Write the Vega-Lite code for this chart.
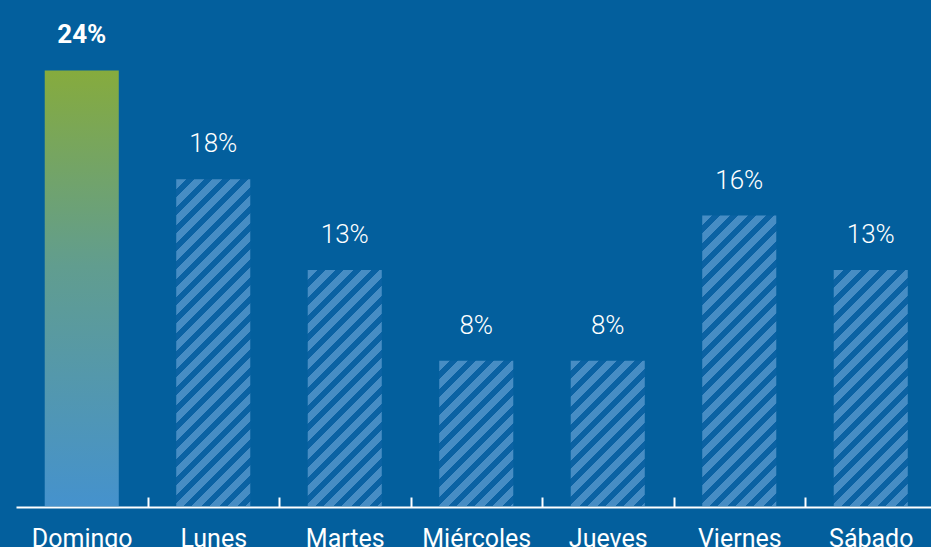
{
  "$schema": "https://vega.github.io/schema/vega-lite/v6.json",
  "width": 915,
  "height": 506,
  "autosize": {"type": "none"},
  "padding": {"left": 16, "top": 0, "right": 0, "bottom": 41},
  "background": "#035f9d",
  "config": {"view": {"stroke": null}, "font": "Roboto"},
  "data": {
    "values": [
      {"dia": "Domingo", "pct": 0.24},
      {"dia": "Lunes", "pct": 0.18},
      {"dia": "Martes", "pct": 0.13},
      {"dia": "Miércoles", "pct": 0.08},
      {"dia": "Jueves", "pct": 0.08},
      {"dia": "Viernes", "pct": 0.16},
      {"dia": "Sábado", "pct": 0.13}
    ]
  },
  "encoding": {
    "x": {
      "field": "dia",
      "type": "nominal",
      "scale": {
        "domain": ["Domingo", "Lunes", "Martes", "Miércoles", "Jueves", "Viernes", "Sábado"],
        "range": [0, 920.5],
        "paddingInner": 0.437,
        "paddingOuter": 0.2185
      },
      "axis": {
        "title": null,
        "labelColor": "white",
        "labelFontSize": 25,
        "labelFont": "Roboto",
        "labelFontWeight": "normal",
        "labelAngle": 0,
        "labelBaseline": "alphabetic",
        "labelPadding": 49,
        "labelOverlap": false,
        "labelOffset": -65.75,
        "domainColor": "white",
        "domainWidth": 2,
        "tickColor": "white",
        "tickWidth": 2,
        "tickSize": -10,
        "tickOffset": 65.75,
        "offset": 1,
        "grid": false
      }
    },
    "y": {
      "field": "pct",
      "type": "quantitative",
      "scale": {"domain": [0, 0.2788], "nice": false, "zero": true},
      "axis": null
    }
  },
  "layer": [
    {
      "transform": [{"filter": {"field": "dia", "equal": "Domingo"}}],
      "mark": {
        "type": "bar",
        "fill": {
          "gradient": "linear", "x1": 0, "y1": 0, "x2": 0, "y2": 1,
          "stops": [
            {"offset": 0, "color": "#86ab3d"},
            {"offset": 0.45, "color": "#619d8f"},
            {"offset": 1, "color": "#4592cd"}
          ]
        }
      }
    },
    {
      "transform": [{"filter": {"field": "dia", "oneOf": ["Lunes"]}}],
      "mark": {
        "type": "bar",
        "fill": {
          "gradient": "linear", "x1": 0, "y1": 0, "x2": 0.26447, "y2": 1.16756,
          "stops": [
            {"offset": 0, "color": "#478dc4"},{"offset": 0.02494, "color": "#478dc4"},{"offset": 0.02494, "color": "#0b62a3"},{"offset": 0.04489, "color": "#0b62a3"},
            {"offset": 0.04489, "color": "#478dc4"},{"offset": 0.06983, "color": "#478dc4"},{"offset": 0.06983, "color": "#0b62a3"},{"offset": 0.08978, "color": "#0b62a3"},
            {"offset": 0.08978, "color": "#478dc4"},{"offset": 0.11471, "color": "#478dc4"},{"offset": 0.11471, "color": "#0b62a3"},{"offset": 0.13466, "color": "#0b62a3"},
            {"offset": 0.13466, "color": "#478dc4"},{"offset": 0.15960, "color": "#478dc4"},{"offset": 0.15960, "color": "#0b62a3"},{"offset": 0.17955, "color": "#0b62a3"},
            {"offset": 0.17955, "color": "#478dc4"},{"offset": 0.20449, "color": "#478dc4"},{"offset": 0.20449, "color": "#0b62a3"},{"offset": 0.22444, "color": "#0b62a3"},
            {"offset": 0.22444, "color": "#478dc4"},{"offset": 0.24938, "color": "#478dc4"},{"offset": 0.24938, "color": "#0b62a3"},{"offset": 0.26933, "color": "#0b62a3"},
            {"offset": 0.26933, "color": "#478dc4"},{"offset": 0.29426, "color": "#478dc4"},{"offset": 0.29426, "color": "#0b62a3"},{"offset": 0.31421, "color": "#0b62a3"},
            {"offset": 0.31421, "color": "#478dc4"},{"offset": 0.33915, "color": "#478dc4"},{"offset": 0.33915, "color": "#0b62a3"},{"offset": 0.35910, "color": "#0b62a3"},
            {"offset": 0.35910, "color": "#478dc4"},{"offset": 0.38404, "color": "#478dc4"},{"offset": 0.38404, "color": "#0b62a3"},{"offset": 0.40399, "color": "#0b62a3"},
            {"offset": 0.40399, "color": "#478dc4"},{"offset": 0.42893, "color": "#478dc4"},{"offset": 0.42893, "color": "#0b62a3"},{"offset": 0.44888, "color": "#0b62a3"},
            {"offset": 0.44888, "color": "#478dc4"},{"offset": 0.47382, "color": "#478dc4"},{"offset": 0.47382, "color": "#0b62a3"},{"offset": 0.49377, "color": "#0b62a3"},
            {"offset": 0.49377, "color": "#478dc4"},{"offset": 0.51870, "color": "#478dc4"},{"offset": 0.51870, "color": "#0b62a3"},{"offset": 0.53865, "color": "#0b62a3"},
            {"offset": 0.53865, "color": "#478dc4"},{"offset": 0.56359, "color": "#478dc4"},{"offset": 0.56359, "color": "#0b62a3"},{"offset": 0.58354, "color": "#0b62a3"},
            {"offset": 0.58354, "color": "#478dc4"},{"offset": 0.60848, "color": "#478dc4"},{"offset": 0.60848, "color": "#0b62a3"},{"offset": 0.62843, "color": "#0b62a3"},
            {"offset": 0.62843, "color": "#478dc4"},{"offset": 0.65337, "color": "#478dc4"},{"offset": 0.65337, "color": "#0b62a3"},{"offset": 0.67332, "color": "#0b62a3"},
            {"offset": 0.67332, "color": "#478dc4"},{"offset": 0.69825, "color": "#478dc4"},{"offset": 0.69825, "color": "#0b62a3"},{"offset": 0.71820, "color": "#0b62a3"},
            {"offset": 0.71820, "color": "#478dc4"},{"offset": 0.74314, "color": "#478dc4"},{"offset": 0.74314, "color": "#0b62a3"},{"offset": 0.76309, "color": "#0b62a3"},
            {"offset": 0.76309, "color": "#478dc4"},{"offset": 0.78803, "color": "#478dc4"},{"offset": 0.78803, "color": "#0b62a3"},{"offset": 0.80798, "color": "#0b62a3"},
            {"offset": 0.80798, "color": "#478dc4"},{"offset": 0.83292, "color": "#478dc4"},{"offset": 0.83292, "color": "#0b62a3"},{"offset": 0.85287, "color": "#0b62a3"},
            {"offset": 0.85287, "color": "#478dc4"},{"offset": 0.87781, "color": "#478dc4"},{"offset": 0.87781, "color": "#0b62a3"},{"offset": 0.89776, "color": "#0b62a3"},
            {"offset": 0.89776, "color": "#478dc4"},{"offset": 0.92269, "color": "#478dc4"},{"offset": 0.92269, "color": "#0b62a3"},{"offset": 0.94264, "color": "#0b62a3"},
            {"offset": 0.94264, "color": "#478dc4"},{"offset": 0.96758, "color": "#478dc4"},{"offset": 0.96758, "color": "#0b62a3"},{"offset": 0.98753, "color": "#0b62a3"},
            {"offset": 0.98753, "color": "#478dc4"},{"offset": 1, "color": "#478dc4"}
          ]
        }
      }
    },
    {
      "transform": [{"filter": {"field": "dia", "oneOf": ["Viernes"]}}],
      "mark": {
        "type": "bar",
        "fill": {
          "gradient": "linear", "x1": 0, "y1": 0, "x2": 0.33044, "y2": 1.29669,
          "stops": [
            {"offset": 0, "color": "#478dc4"},{"offset": 0.02494, "color": "#478dc4"},{"offset": 0.02494, "color": "#0b62a3"},{"offset": 0.04489, "color": "#0b62a3"},
            {"offset": 0.04489, "color": "#478dc4"},{"offset": 0.06983, "color": "#478dc4"},{"offset": 0.06983, "color": "#0b62a3"},{"offset": 0.08978, "color": "#0b62a3"},
            {"offset": 0.08978, "color": "#478dc4"},{"offset": 0.11471, "color": "#478dc4"},{"offset": 0.11471, "color": "#0b62a3"},{"offset": 0.13466, "color": "#0b62a3"},
            {"offset": 0.13466, "color": "#478dc4"},{"offset": 0.15960, "color": "#478dc4"},{"offset": 0.15960, "color": "#0b62a3"},{"offset": 0.17955, "color": "#0b62a3"},
            {"offset": 0.17955, "color": "#478dc4"},{"offset": 0.20449, "color": "#478dc4"},{"offset": 0.20449, "color": "#0b62a3"},{"offset": 0.22444, "color": "#0b62a3"},
            {"offset": 0.22444, "color": "#478dc4"},{"offset": 0.24938, "color": "#478dc4"},{"offset": 0.24938, "color": "#0b62a3"},{"offset": 0.26933, "color": "#0b62a3"},
            {"offset": 0.26933, "color": "#478dc4"},{"offset": 0.29426, "color": "#478dc4"},{"offset": 0.29426, "color": "#0b62a3"},{"offset": 0.31421, "color": "#0b62a3"},
            {"offset": 0.31421, "color": "#478dc4"},{"offset": 0.33915, "color": "#478dc4"},{"offset": 0.33915, "color": "#0b62a3"},{"offset": 0.35910, "color": "#0b62a3"},
            {"offset": 0.35910, "color": "#478dc4"},{"offset": 0.38404, "color": "#478dc4"},{"offset": 0.38404, "color": "#0b62a3"},{"offset": 0.40399, "color": "#0b62a3"},
            {"offset": 0.40399, "color": "#478dc4"},{"offset": 0.42893, "color": "#478dc4"},{"offset": 0.42893, "color": "#0b62a3"},{"offset": 0.44888, "color": "#0b62a3"},
            {"offset": 0.44888, "color": "#478dc4"},{"offset": 0.47382, "color": "#478dc4"},{"offset": 0.47382, "color": "#0b62a3"},{"offset": 0.49377, "color": "#0b62a3"},
            {"offset": 0.49377, "color": "#478dc4"},{"offset": 0.51870, "color": "#478dc4"},{"offset": 0.51870, "color": "#0b62a3"},{"offset": 0.53865, "color": "#0b62a3"},
            {"offset": 0.53865, "color": "#478dc4"},{"offset": 0.56359, "color": "#478dc4"},{"offset": 0.56359, "color": "#0b62a3"},{"offset": 0.58354, "color": "#0b62a3"},
            {"offset": 0.58354, "color": "#478dc4"},{"offset": 0.60848, "color": "#478dc4"},{"offset": 0.60848, "color": "#0b62a3"},{"offset": 0.62843, "color": "#0b62a3"},
            {"offset": 0.62843, "color": "#478dc4"},{"offset": 0.65337, "color": "#478dc4"},{"offset": 0.65337, "color": "#0b62a3"},{"offset": 0.67332, "color": "#0b62a3"},
            {"offset": 0.67332, "color": "#478dc4"},{"offset": 0.69825, "color": "#478dc4"},{"offset": 0.69825, "color": "#0b62a3"},{"offset": 0.71820, "color": "#0b62a3"},
            {"offset": 0.71820, "color": "#478dc4"},{"offset": 0.74314, "color": "#478dc4"},{"offset": 0.74314, "color": "#0b62a3"},{"offset": 0.76309, "color": "#0b62a3"},
            {"offset": 0.76309, "color": "#478dc4"},{"offset": 0.78803, "color": "#478dc4"},{"offset": 0.78803, "color": "#0b62a3"},{"offset": 0.80798, "color": "#0b62a3"},
            {"offset": 0.80798, "color": "#478dc4"},{"offset": 0.83292, "color": "#478dc4"},{"offset": 0.83292, "color": "#0b62a3"},{"offset": 0.85287, "color": "#0b62a3"},
            {"offset": 0.85287, "color": "#478dc4"},{"offset": 0.87781, "color": "#478dc4"},{"offset": 0.87781, "color": "#0b62a3"},{"offset": 0.89776, "color": "#0b62a3"},
            {"offset": 0.89776, "color": "#478dc4"},{"offset": 0.92269, "color": "#478dc4"},{"offset": 0.92269, "color": "#0b62a3"},{"offset": 0.94264, "color": "#0b62a3"},
            {"offset": 0.94264, "color": "#478dc4"},{"offset": 0.96758, "color": "#478dc4"},{"offset": 0.96758, "color": "#0b62a3"},{"offset": 0.98753, "color": "#0b62a3"},
            {"offset": 0.98753, "color": "#478dc4"},{"offset": 1, "color": "#478dc4"}
          ]
        }
      }
    },
    {
      "transform": [{"filter": {"field": "dia", "oneOf": ["Martes", "Sábado"]}}],
      "mark": {
        "type": "bar",
        "fill": {
          "gradient": "linear", "x1": 0, "y1": 0, "x2": 0.48532, "y2": 1.54737,
          "stops": [
            {"offset": 0, "color": "#478dc4"},{"offset": 0.02494, "color": "#478dc4"},{"offset": 0.02494, "color": "#0b62a3"},{"offset": 0.04489, "color": "#0b62a3"},
            {"offset": 0.04489, "color": "#478dc4"},{"offset": 0.06983, "color": "#478dc4"},{"offset": 0.06983, "color": "#0b62a3"},{"offset": 0.08978, "color": "#0b62a3"},
            {"offset": 0.08978, "color": "#478dc4"},{"offset": 0.11471, "color": "#478dc4"},{"offset": 0.11471, "color": "#0b62a3"},{"offset": 0.13466, "color": "#0b62a3"},
            {"offset": 0.13466, "color": "#478dc4"},{"offset": 0.15960, "color": "#478dc4"},{"offset": 0.15960, "color": "#0b62a3"},{"offset": 0.17955, "color": "#0b62a3"},
            {"offset": 0.17955, "color": "#478dc4"},{"offset": 0.20449, "color": "#478dc4"},{"offset": 0.20449, "color": "#0b62a3"},{"offset": 0.22444, "color": "#0b62a3"},
            {"offset": 0.22444, "color": "#478dc4"},{"offset": 0.24938, "color": "#478dc4"},{"offset": 0.24938, "color": "#0b62a3"},{"offset": 0.26933, "color": "#0b62a3"},
            {"offset": 0.26933, "color": "#478dc4"},{"offset": 0.29426, "color": "#478dc4"},{"offset": 0.29426, "color": "#0b62a3"},{"offset": 0.31421, "color": "#0b62a3"},
            {"offset": 0.31421, "color": "#478dc4"},{"offset": 0.33915, "color": "#478dc4"},{"offset": 0.33915, "color": "#0b62a3"},{"offset": 0.35910, "color": "#0b62a3"},
            {"offset": 0.35910, "color": "#478dc4"},{"offset": 0.38404, "color": "#478dc4"},{"offset": 0.38404, "color": "#0b62a3"},{"offset": 0.40399, "color": "#0b62a3"},
            {"offset": 0.40399, "color": "#478dc4"},{"offset": 0.42893, "color": "#478dc4"},{"offset": 0.42893, "color": "#0b62a3"},{"offset": 0.44888, "color": "#0b62a3"},
            {"offset": 0.44888, "color": "#478dc4"},{"offset": 0.47382, "color": "#478dc4"},{"offset": 0.47382, "color": "#0b62a3"},{"offset": 0.49377, "color": "#0b62a3"},
            {"offset": 0.49377, "color": "#478dc4"},{"offset": 0.51870, "color": "#478dc4"},{"offset": 0.51870, "color": "#0b62a3"},{"offset": 0.53865, "color": "#0b62a3"},
            {"offset": 0.53865, "color": "#478dc4"},{"offset": 0.56359, "color": "#478dc4"},{"offset": 0.56359, "color": "#0b62a3"},{"offset": 0.58354, "color": "#0b62a3"},
            {"offset": 0.58354, "color": "#478dc4"},{"offset": 0.60848, "color": "#478dc4"},{"offset": 0.60848, "color": "#0b62a3"},{"offset": 0.62843, "color": "#0b62a3"},
            {"offset": 0.62843, "color": "#478dc4"},{"offset": 0.65337, "color": "#478dc4"},{"offset": 0.65337, "color": "#0b62a3"},{"offset": 0.67332, "color": "#0b62a3"},
            {"offset": 0.67332, "color": "#478dc4"},{"offset": 0.69825, "color": "#478dc4"},{"offset": 0.69825, "color": "#0b62a3"},{"offset": 0.71820, "color": "#0b62a3"},
            {"offset": 0.71820, "color": "#478dc4"},{"offset": 0.74314, "color": "#478dc4"},{"offset": 0.74314, "color": "#0b62a3"},{"offset": 0.76309, "color": "#0b62a3"},
            {"offset": 0.76309, "color": "#478dc4"},{"offset": 0.78803, "color": "#478dc4"},{"offset": 0.78803, "color": "#0b62a3"},{"offset": 0.80798, "color": "#0b62a3"},
            {"offset": 0.80798, "color": "#478dc4"},{"offset": 0.83292, "color": "#478dc4"},{"offset": 0.83292, "color": "#0b62a3"},{"offset": 0.85287, "color": "#0b62a3"},
            {"offset": 0.85287, "color": "#478dc4"},{"offset": 0.87781, "color": "#478dc4"},{"offset": 0.87781, "color": "#0b62a3"},{"offset": 0.89776, "color": "#0b62a3"},
            {"offset": 0.89776, "color": "#478dc4"},{"offset": 0.92269, "color": "#478dc4"},{"offset": 0.92269, "color": "#0b62a3"},{"offset": 0.94264, "color": "#0b62a3"},
            {"offset": 0.94264, "color": "#478dc4"},{"offset": 0.96758, "color": "#478dc4"},{"offset": 0.96758, "color": "#0b62a3"},{"offset": 0.98753, "color": "#0b62a3"},
            {"offset": 0.98753, "color": "#478dc4"},{"offset": 1, "color": "#478dc4"}
          ]
        }
      }
    },
    {
      "transform": [{"filter": {"field": "dia", "oneOf": ["Miércoles", "Jueves"]}}],
      "mark": {
        "type": "bar",
        "fill": {
          "gradient": "linear", "x1": 0, "y1": 0, "x2": 1.11741, "y2": 2.19239,
          "stops": [
            {"offset": 0, "color": "#478dc4"},{"offset": 0.02494, "color": "#478dc4"},{"offset": 0.02494, "color": "#0b62a3"},{"offset": 0.04489, "color": "#0b62a3"},
            {"offset": 0.04489, "color": "#478dc4"},{"offset": 0.06983, "color": "#478dc4"},{"offset": 0.06983, "color": "#0b62a3"},{"offset": 0.08978, "color": "#0b62a3"},
            {"offset": 0.08978, "color": "#478dc4"},{"offset": 0.11471, "color": "#478dc4"},{"offset": 0.11471, "color": "#0b62a3"},{"offset": 0.13466, "color": "#0b62a3"},
            {"offset": 0.13466, "color": "#478dc4"},{"offset": 0.15960, "color": "#478dc4"},{"offset": 0.15960, "color": "#0b62a3"},{"offset": 0.17955, "color": "#0b62a3"},
            {"offset": 0.17955, "color": "#478dc4"},{"offset": 0.20449, "color": "#478dc4"},{"offset": 0.20449, "color": "#0b62a3"},{"offset": 0.22444, "color": "#0b62a3"},
            {"offset": 0.22444, "color": "#478dc4"},{"offset": 0.24938, "color": "#478dc4"},{"offset": 0.24938, "color": "#0b62a3"},{"offset": 0.26933, "color": "#0b62a3"},
            {"offset": 0.26933, "color": "#478dc4"},{"offset": 0.29426, "color": "#478dc4"},{"offset": 0.29426, "color": "#0b62a3"},{"offset": 0.31421, "color": "#0b62a3"},
            {"offset": 0.31421, "color": "#478dc4"},{"offset": 0.33915, "color": "#478dc4"},{"offset": 0.33915, "color": "#0b62a3"},{"offset": 0.35910, "color": "#0b62a3"},
            {"offset": 0.35910, "color": "#478dc4"},{"offset": 0.38404, "color": "#478dc4"},{"offset": 0.38404, "color": "#0b62a3"},{"offset": 0.40399, "color": "#0b62a3"},
            {"offset": 0.40399, "color": "#478dc4"},{"offset": 0.42893, "color": "#478dc4"},{"offset": 0.42893, "color": "#0b62a3"},{"offset": 0.44888, "color": "#0b62a3"},
            {"offset": 0.44888, "color": "#478dc4"},{"offset": 0.47382, "color": "#478dc4"},{"offset": 0.47382, "color": "#0b62a3"},{"offset": 0.49377, "color": "#0b62a3"},
            {"offset": 0.49377, "color": "#478dc4"},{"offset": 0.51870, "color": "#478dc4"},{"offset": 0.51870, "color": "#0b62a3"},{"offset": 0.53865, "color": "#0b62a3"},
            {"offset": 0.53865, "color": "#478dc4"},{"offset": 0.56359, "color": "#478dc4"},{"offset": 0.56359, "color": "#0b62a3"},{"offset": 0.58354, "color": "#0b62a3"},
            {"offset": 0.58354, "color": "#478dc4"},{"offset": 1, "color": "#478dc4"}
          ]
        }
      }
    },
    {
      "mark": {
        "type": "text",
        "dy": -27,
        "baseline": "alphabetic",
        "align": "center",
        "fontSize": 26,
        "font": "Roboto",
        "color": "white",
        "fontWeight": {"expr": "datum.dia === 'Domingo' ? 'bold' : 300"}
      },
      "encoding": {
        "text": {"field": "pct", "type": "quantitative", "format": ".0%"}
      }
    }
  ]
}
